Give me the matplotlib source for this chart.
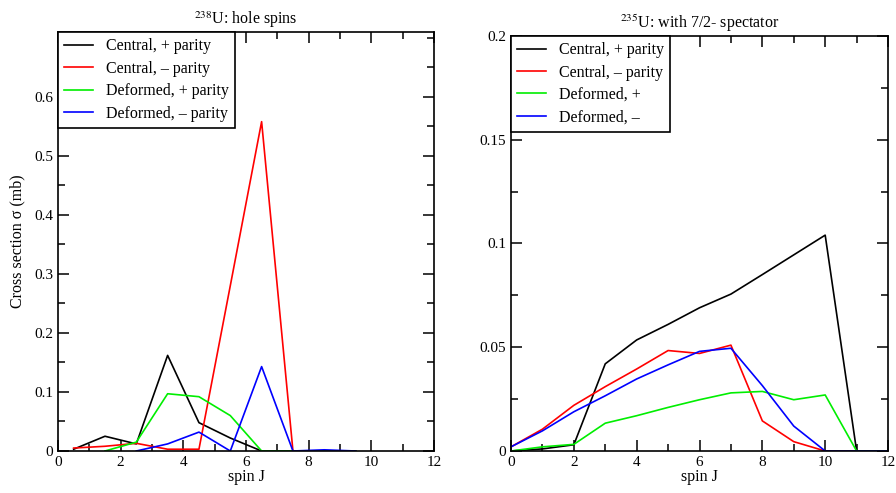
import matplotlib
matplotlib.use('Agg')
import matplotlib.pyplot as plt
from matplotlib.ticker import MultipleLocator

plt.rcParams['font.family'] = ['Liberation Serif', 'DejaVu Serif']
plt.rcParams['mathtext.fontset'] = 'stix'

# left panel: 238U hole spins
spin_l = [0.5, 1.5, 2.5, 3.5, 4.5, 5.5, 6.5, 7.5, 8.5, 9.5]
cen_pos_l = [0.003, 0.025, 0.012, 0.162, 0.048, 0.022, 0.0, 0.0, 0.0, 0.0]
cen_neg_l = [0.005, 0.008, 0.013, 0.003, 0.003, 0.28, 0.558, 0.0, 0.0, 0.0]
def_pos_l = [None, 0.0, 0.015, 0.097, 0.092, 0.060, 0.0, 0.0, 0.0, 0.0]
def_neg_l = [None, None, 0.0, 0.012, 0.032, 0.0, 0.143, 0.0, 0.002, 0.0]

# right panel: 235U with 7/2- spectator
spin_r = [0, 1, 2, 3, 4, 5, 6, 7, 8, 9, 10, 11, 12]
cen_pos_r = [0.0, 0.001, 0.003, 0.042, 0.0535, 0.061, 0.069, 0.0756, 0.085, 0.0945, 0.104, 0.0, 0.0]
cen_neg_r = [0.002, 0.0105, 0.022, 0.031, 0.0395, 0.0484, 0.047, 0.051, 0.0145, 0.0045, 0.0, 0.0, 0.0]
def_pos_r = [0.0, 0.002, 0.0032, 0.0134, 0.017, 0.021, 0.0247, 0.028, 0.0287, 0.0247, 0.027, 0.0, 0.0]
def_neg_r = [0.002, 0.0097, 0.0189, 0.0266, 0.0347, 0.0415, 0.048, 0.0495, 0.0315, 0.012, 0.0, 0.0, 0.0]

colors = ['black', 'red', '#00ee00', 'blue']
labels_l = ['Central, + parity', 'Central, \u2013 parity', 'Deformed, + parity', 'Deformed, \u2013 parity']
labels_r = ['Central, + parity', 'Central, \u2013 parity', 'Deformed, +', 'Deformed, \u2013']


def trim(xs, ys):
    pts = [(x, y) for x, y in zip(xs, ys) if y is not None]
    return [p[0] for p in pts], [p[1] for p in pts]


fig = plt.figure(figsize=(8.96, 4.93), dpi=100)
ax1 = fig.add_axes([0.0647, 0.0852, 0.4196, 0.850])
ax2 = fig.add_axes([0.5703, 0.0852, 0.4208, 0.842])

for ys, c, lab in zip([cen_pos_l, cen_neg_l, def_pos_l, def_neg_l], colors, labels_l):
    x, y = trim(spin_l, ys)
    ax1.plot(x, y, color=c, lw=1.2, label=lab)
for ys, c, lab in zip([cen_pos_r, cen_neg_r, def_pos_r, def_neg_r], colors, labels_r):
    ax2.plot(spin_r, ys, color=c, lw=1.2, label=lab)

ax1.set_ylim(0, 0.71)
ax1.set_yticks([0, 0.1, 0.2, 0.3, 0.4, 0.5, 0.6])
ax1.set_yticklabels(['0', '0.1', '0.2', '0.3', '0.4', '0.5', '0.6'])
ax1.yaxis.set_minor_locator(MultipleLocator(0.05))
ax2.set_ylim(0, 0.2)
ax2.set_yticks([0, 0.05, 0.1, 0.15, 0.2])
ax2.set_yticklabels(['0', '0.05', '0.1', '0.15', '0.2'])
ax2.yaxis.set_minor_locator(MultipleLocator(0.025))

for ax in (ax1, ax2):
    ax.set_xlim(0, 12)
    ax.xaxis.set_major_locator(MultipleLocator(2))
    ax.xaxis.set_minor_locator(MultipleLocator(1))
    ax.tick_params(which='both', direction='in', top=True, right=True, labelsize=11, width=1.1)
    ax.tick_params(which='major', length=8)
    ax.tick_params(which='minor', length=5)
    for s in ax.spines.values():
        s.set_linewidth(1.2)
    ax.set_xlabel('spin J', fontsize=11.5, labelpad=0)
    leg = ax.legend(loc='upper left', borderaxespad=0, fontsize=11.5, fancybox=False,
                    edgecolor='black', framealpha=1, handlelength=1.8, labelspacing=0.4,
                    borderpad=0.4)
    leg.get_frame().set_linewidth(1.2)

ax1.set_ylabel('Cross section \u03c3 (mb)', fontsize=11.5, labelpad=6)
ax1.set_title(r'$^{238}$U: hole spins', fontsize=11.5, pad=6)
ax2.set_title(r'$^{235}$U: with 7/2- spectator', fontsize=11.5, pad=6)

fig.savefig('out.png', dpi=100)
